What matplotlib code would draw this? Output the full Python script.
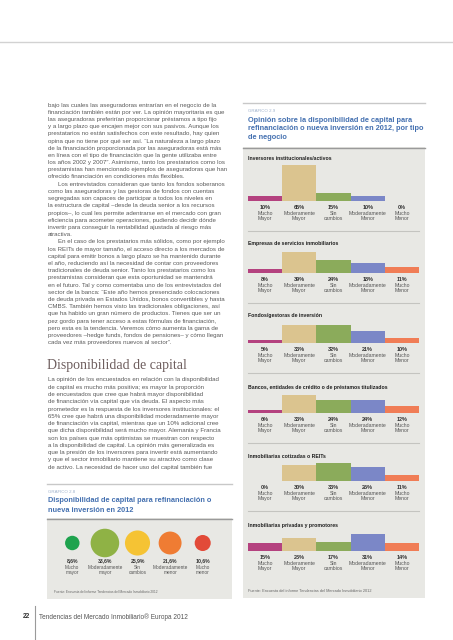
import matplotlib.pyplot as plt
from matplotlib.patches import Rectangle
from matplotlib.lines import Line2D

W, H = 453, 640

# ---- data -----------------------------------------------------------------
body_1 = [
    "bajo las cuales las aseguradoras entrarían en el negocio de la",
    "financiación también están por ver. La opinión mayoritaria es que",
    "las aseguradoras preferirían proporcionar préstamos a tipo fijo",
    "y a largo plazo que encajen mejor con sus pasivos. Aunque los",
    "prestatarios no están satisfechos con este resultado, hay quien",
    "opina que no tiene por qué ser así. “La naturaleza a largo plazo",
    "de la financiación proporcionada por las aseguradoras está más",
    "en línea con el tipo de financiación que la gente utilizaba entre",
    "los años 2002 y 2007”. Asimismo, tanto los prestatarios como los",
    "prestamistas han mencionado ejemplos de aseguradoras que han",
    "ofrecido financiación en condiciones más flexibles.",
    "\tLos entrevistados consideran que tanto los fondos soberanos",
    "como las aseguradoras y las gestoras de fondos con cuentas",
    "segregadas son capaces de participar a todos los niveles en",
    "la estructura de capital –desde la deuda senior a los recursos",
    "propios–, lo cual les permite adentrarse en el mercado con gran",
    "eficiencia para acometer operaciones, pudiendo decidir dónde",
    "invertir para conseguir la rentabilidad ajustada al riesgo más",
    "atractiva.",
    "\tEn el caso de los prestatarios más sólidos, como por ejemplo",
    "los REITs de mayor tamaño, el acceso directo a los mercados de",
    "capital para emitir bonos a largo plazo se ha mantenido durante",
    "el año, reduciendo así la necesidad de contar con proveedores",
    "tradicionales de deuda senior. Tanto los prestatarios como los",
    "prestamistas consideran que esta oportunidad se mantendrá",
    "en el futuro. Tal y como comentaba uno de los entrevistados del",
    "sector de la banca: “Este año hemos presenciado colocaciones",
    "de deuda privada en Estados Unidos, bonos convertibles y hasta",
    "CMBS. También hemos visto las tradicionales obligaciones, así",
    "que ha habido un gran número de productos. Tienes que ser un",
    "pez gordo para tener acceso a estas fórmulas de financiación,",
    "pero esta es la tendencia. Veremos cómo aumenta la gama de",
    "proveedores –hedge funds, fondos de pensiones– y cómo llegan",
    "cada vez más proveedores nuevos al sector”.",
]
heading = "Disponibilidad de capital"
body_2 = [
    "La opinión de los encuestados en relación con la disponibilidad",
    "de capital es mucho más positiva; es mayor la proporción",
    "de encuestados que cree que habrá mayor disponibilidad",
    "de financiación vía capital que vía deuda. El aspecto más",
    "prometedor es la respuesta de los inversores institucionales: el",
    "65% cree que habrá una disponibilidad moderadamente mayor",
    "de financiación vía capital, mientras que un 10% adicional cree",
    "que dicha disponibilidad será mucho mayor. Alemania y Francia",
    "son los países que más optimistas se muestran con respecto",
    "a la disponibilidad de capital. La opinión más generalizada es",
    "que la presión de los inversores para invertir está aumentando",
    "y que el sector inmobiliario mantiene su atractivo como clase",
    "de activo. La necesidad de hacer uso del capital también fue",
]

# grafico 2.8
bubble_labels = ["Mucho\nmayor", "Moderadamente\nmayor", "Sin\ncambios",
                 "Moderadamente\nmenor", "Mucho\nmenor"]
bubble_values = [8.6, 33.6, 25.9, 21.6, 10.6]
bubble_colors = ["#1ea34e", "#8fb245", "#f5c334", "#ef7c33", "#e24a38"]

# grafico 2.9
bar_labels = ["Mucho\nMayor", "Moderamente\nMayor", "Sin\ncambios",
              "Moderadamente\nMenor", "Mucho\nMenor"]
bar_colors = ["#b4427f", "#dbc48f", "#8bab5b", "#7b87c7", "#f07d56"]
groups = [
    "Inversores institucionales/activos",
    "Empresas de servicios inmobiliarios",
    "Fondos/gestoras de inversión",
    "Bancos, entidades de crédito o de préstamos titulizados",
    "Inmobiliarias cotizadas o REITs",
    "Inmobiliarias privadas y promotores",
]
inversores = [10, 65, 15, 10, 0]
servicios = [8, 39, 24, 18, 11]
fondos = [5, 33, 32, 21, 10]
bancos = [6, 33, 24, 24, 12]
cotizadas = [0, 30, 33, 26, 11]
privadas = [15, 23, 17, 31, 14]
group_values = [inversores, servicios, fondos, bancos, cotizadas, privadas]

fuente = "Fuente: Encuesta del informe Tendencias del Mercado Inmobiliario 2012"

# ---- helpers --------------------------------------------------------------
SANS = ["Liberation Sans", "DejaVu Sans"]
NARROW = ["Liberation Sans Narrow", "Liberation Sans", "DejaVu Sans"]
PANEL = "#e8e8e4"


def fx(x):
    return x / W


def fy(y):
    return 1 - y / H


def txt(x, y, s, **kw):
    kw.setdefault("va", "center")
    fig.text(fx(x), fy(y), s, **kw)


def hline(x0, x1, y, color="#b0b0b0", lw=0.8):
    fig.add_artist(Line2D([fx(x0), fx(x1)], [fy(y), fy(y)], color=color, lw=lw))


def box(x0, y0, x1, y1, color):
    fig.add_artist(Rectangle((fx(x0), fy(y1)), fx(x1) - fx(x0), fy(y0) - fy(y1),
                             facecolor=color, edgecolor="none", zorder=0))


fig = plt.figure(figsize=(W / 100, H / 100), dpi=100)

# page rule
hline(0, W, 42, color="#d2d2d2", lw=1.0)

# ---- left text column -----------------------------------------------------
for i, line in enumerate(body_1):
    x = 48
    if line.startswith("\t"):
        x, line = 58, line[1:]
    txt(x, 105 + i * 7.2, line, fontsize=4.45, color="#5a5a5a", family=SANS)

txt(47, 366, heading, fontsize=10, color="#6e5e5e", family=["Liberation Serif", "DejaVu Serif"])

for i, line in enumerate(body_2):
    txt(48, 380 + i * 7.27, line, fontsize=4.45, color="#5a5a5a", family=SANS)

# ---- grafico 2.8 ----------------------------------------------------------
hline(47, 232, 484, color="#c8c8c8", lw=1.0)
txt(48, 492, "GRÁFICO 2.8", fontsize=3.2, color="#9fb2cc", family=SANS)
txt(48, 501, "Disponibilidad de capital para refinanciación o", fontsize=5.35,
    color="#4470b0", family=SANS, fontweight="bold")
txt(48, 510, "nueva inversión en 2012", fontsize=5.35,
    color="#4470b0", family=SANS, fontweight="bold")
box(47, 518, 232, 599, PANEL)
hline(47, 232, 518.5, color="#9a9a9a", lw=1.0)

axb = fig.add_axes([fx(56), fy(560), fx(219) - fx(56), fy(526) - fy(560)])
axb.set_xlim(-0.5, 4.5)
axb.set_ylim(0, 1)
axb.axis("off")
xs = list(range(len(bubble_values)))
axb.scatter(xs, [0.5] * len(xs), s=[v * 12.6 for v in bubble_values],
            c=bubble_colors, linewidths=0, clip_on=False)
for i, (v, lab) in enumerate(zip(bubble_values, bubble_labels)):
    axb.annotate(f"{v:.1f}%".replace(".", ","), (i, 0), xytext=(0, -0.7),
                 textcoords="offset points", ha="center", va="center",
                 fontsize=3.7, fontweight="bold", color="#333333", family=NARROW)
    axb.annotate(lab, (i, 0), xytext=(0, -7.3), textcoords="offset points",
                 ha="center", va="center", fontsize=3.4, color="#555555",
                 family=NARROW, linespacing=1.15)
txt(54, 592, fuente, fontsize=2.3, color="#666666", family=NARROW)

# ---- grafico 2.9 ----------------------------------------------------------
hline(243, 425, 103, color="#c8c8c8", lw=1.0)
txt(248, 111, "GRÁFICO 2.9", fontsize=3.2, color="#9fb2cc", family=SANS)
for i, line in enumerate(["Opinión sobre la disponibilidad de capital para",
                          "refinanciación o nueva inversión en 2012, por tipo",
                          "de negocio"]):
    txt(248, 120 + i * 8.6, line, fontsize=5.35, color="#4470b0",
        family=SANS, fontweight="bold")
box(243, 147, 425, 598, PANEL)
hline(243, 425, 147.5, color="#9a9a9a", lw=1.0)

headers_y = [158, 243, 316, 388, 456, 526]
base_y = [201, 273, 343, 413, 481, 551]
PX_PER_PCT = 0.55
for k, (name, vals) in enumerate(zip(groups, group_values)):
    txt(248, headers_y[k], name, fontsize=3.7, fontweight="bold",
        color="#1e1e1e", family=NARROW)
    top = base_y[k] - 40
    ax = fig.add_axes([fx(248), fy(base_y[k]), fx(419) - fx(248), fy(top) - fy(base_y[k])])
    ax.set_xlim(0, 5)
    ax.set_ylim(0, 40 / PX_PER_PCT)
    ax.axis("off")
    ax.bar([i + 0.5 for i in range(5)], vals, width=1.0, color=bar_colors,
           linewidth=0)
    for i, (v, lab) in enumerate(zip(vals, bar_labels)):
        ax.annotate(f"{v}%", (i + 0.5, 0), xytext=(0, -4.4),
                    textcoords="offset points", ha="center", va="center",
                    fontsize=4.0, fontweight="bold", color="#333333", family=NARROW)
        ax.annotate(lab, (i + 0.5, 0), xytext=(0, -11.0), textcoords="offset points",
                    ha="center", va="center", fontsize=3.7, color="#555555",
                    family=NARROW, linespacing=1.1)
    if k < len(groups) - 1:
        hline(248, 419, base_y[k] + 30, color="#c4c4c0", lw=0.8)

txt(248, 591, fuente, fontsize=2.75, color="#666666", family=NARROW)

# ---- footer ---------------------------------------------------------------
fig.add_artist(Line2D([fx(35), fx(35)], [fy(606), fy(640)], color="#9a9a9a", lw=0.8))
txt(23, 617, "22", fontsize=4.8, fontweight="bold", color="#333333", family=SANS)
txt(39, 617, "Tendencias del Mercado Inmobiliario® Europa 2012", fontsize=4.7,
    color="#555555", family=SANS)

fig.savefig("out.png", dpi=100)
